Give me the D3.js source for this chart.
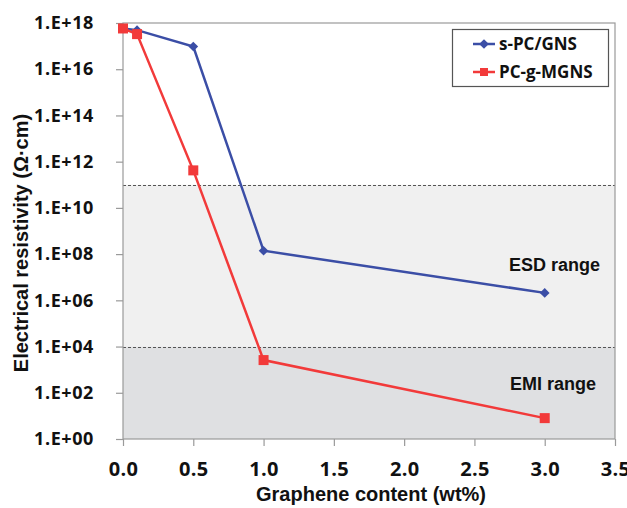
<!DOCTYPE html>
<html>
<head>
<meta charset="utf-8">
<script src="https://cdn.jsdelivr.net/npm/d3@7"></script>
<style>
  body { margin: 0; background: #fff; }
  svg text { font-family: "Open Sans", sans-serif; font-weight: bold; fill: #111; }
  .title, .range { font-family: "Liberation Sans", Arial, sans-serif; }
</style>
</head>
<body>
<svg id="chart" width="627" height="508"></svg>
<script>
// data
var content = [0, 0.1, 0.5, 1.0, 3.0];
var sPcGns = [5.8e17, 4.9e17, 9.6e16, 1.4e8, 2.1e6];
var pcgMgns = [5.8e17, 3.3e17, 4.2e11, 2.6e3, 8];
var seriesNames = ["s-PC/GNS", "PC-g-MGNS"];
var xTicks = [0, 0.5, 1, 1.5, 2, 2.5, 3, 3.5];
var yTicks = [1, 1e2, 1e4, 1e6, 1e8, 1e10, 1e12, 1e14, 1e16, 1e18];
var esdBand = [1e4, 1e11];
var emiBand = [1, 1e4];

var svg = d3.select("svg#chart"),
  margin = { top: 23, right: 12, bottom: 69, left: 123 },
  width = +svg.attr("width") - margin.left - margin.right,
  height = +svg.attr("height") - margin.top - margin.bottom,
  g = svg.append("g")
    .attr("transform", "translate(" + margin.left + "," + margin.top + ")");

var x = d3.scaleLinear().domain([0, 3.5]).range([0, width]);
var y = d3.scaleLog().domain([1, 1e18]).range([height, 0]);

// shaded ranges
g.append("rect")
  .attr("x", 0).attr("width", width)
  .attr("y", y(esdBand[1])).attr("height", y(esdBand[0]) - y(esdBand[1]))
  .attr("fill", "#f0f0f0");
g.append("rect")
  .attr("x", 0).attr("width", width)
  .attr("y", y(emiBand[1])).attr("height", y(emiBand[0]) - y(emiBand[1]))
  .attr("fill", "#dfe0e2");

[esdBand[1], emiBand[1]].forEach(function (v) {
  g.append("line")
    .attr("x1", 0).attr("x2", width)
    .attr("y1", Math.round(y(v)) + 0.5).attr("y2", Math.round(y(v)) + 0.5)
    .attr("stroke", "#555").attr("stroke-dasharray", "3,2");
});

// frame
g.append("rect")
  .attr("x", 0).attr("y", 0).attr("width", width).attr("height", height)
  .attr("fill", "none").attr("stroke", "#9a9a9a").attr("stroke-width", 1.2);

// axes
var xAxis = g.append("g")
  .attr("transform", "translate(0," + height + ")")
  .call(d3.axisBottom(x).tickValues(xTicks).tickSize(7).tickPadding(16)
    .tickFormat(d3.format(".1f")));
var yAxis = g.append("g")
  .call(d3.axisLeft(y).tickValues(yTicks).tickSize(7).tickPadding(22)
    .tickFormat(function (d) {
      var e = Math.round(Math.log10(d));
      return "1.E+" + (e < 10 ? "0" : "") + e;
    }));
[xAxis, yAxis].forEach(function (a) {
  a.attr("font-family", null).attr("font-size", null);
  a.select(".domain").remove();
  a.selectAll(".tick line").attr("stroke", "#9a9a9a").attr("stroke-width", 1.2);
});
yAxis.selectAll("text").style("font-size", "18px").style("letter-spacing", "0.6px");
xAxis.selectAll("text").style("font-size", "20px").style("letter-spacing", "0.3px");

// range labels
g.append("text").attr("class", "range")
  .attr("x", 600 - margin.left).attr("y", 271 - margin.top)
  .attr("text-anchor", "end").style("font-size", "18px").text("ESD range");
g.append("text").attr("class", "range")
  .attr("x", 596 - margin.left).attr("y", 390 - margin.top)
  .attr("text-anchor", "end").style("font-size", "18px").text("EMI range");

// lines
var colors = ["#3b4ea6", "#f23a3a"];
var line = d3.line()
  .x(function (d, i) { return x(content[i]); })
  .y(function (d) { return y(d); });

[sPcGns, pcgMgns].forEach(function (s, k) {
  g.append("path")
    .datum(s)
    .attr("fill", "none")
    .attr("stroke", colors[k])
    .attr("stroke-width", 2.5)
    .attr("d", line);
});

var diamond = d3.symbol().type(d3.symbolDiamond2).size(60);
g.append("g").selectAll("path")
  .data(sPcGns).enter().append("path")
  .attr("transform", function (d, i) { return "translate(" + x(content[i]) + "," + y(d) + ")"; })
  .attr("d", diamond)
  .attr("fill", colors[0]);

g.append("g").selectAll("rect")
  .data(pcgMgns).enter().append("rect")
  .attr("x", function (d, i) { return x(content[i]) - 5; })
  .attr("y", function (d) { return y(d) - 5; })
  .attr("width", 10).attr("height", 10)
  .attr("fill", colors[1]);

// axis titles
svg.append("text").attr("class", "title")
  .attr("x", 371).attr("y", 501)
  .attr("text-anchor", "middle").style("font-size", "20px")
  .text("Graphene content (wt%)");
svg.append("text").attr("class", "title")
  .attr("transform", "translate(28,243) rotate(-90)")
  .attr("text-anchor", "middle").style("font-size", "20px")
  .text("Electrical resistivity (\u03A9\u00B7cm)");

// legend
var legend = svg.append("g");
legend.append("rect")
  .attr("x", 452.5).attr("y", 29.5).attr("width", 156).attr("height", 57)
  .attr("fill", "#fff").attr("stroke", "#555").attr("stroke-width", 1.2);
var item = legend.selectAll("g.item")
  .data(seriesNames).enter().append("g").attr("class", "item")
  .attr("transform", function (d, i) { return "translate(0," + (44 + i * 28) + ")"; });
item.append("line")
  .attr("x1", 473).attr("x2", 495)
  .attr("stroke", function (d, i) { return colors[i]; })
  .attr("stroke-width", 2.5);
item.append("path")
  .attr("transform", "translate(484,0)")
  .attr("d", function (d, i) {
    return i === 0 ? diamond() : d3.symbol().type(d3.symbolSquare).size(64)();
  })
  .attr("fill", function (d, i) { return colors[i]; });
item.append("text")
  .attr("x", 499).attr("dy", "0.36em")
  .style("font-size", "17px")
  .text(function (d) { return d; });
</script>
</body>
</html>
